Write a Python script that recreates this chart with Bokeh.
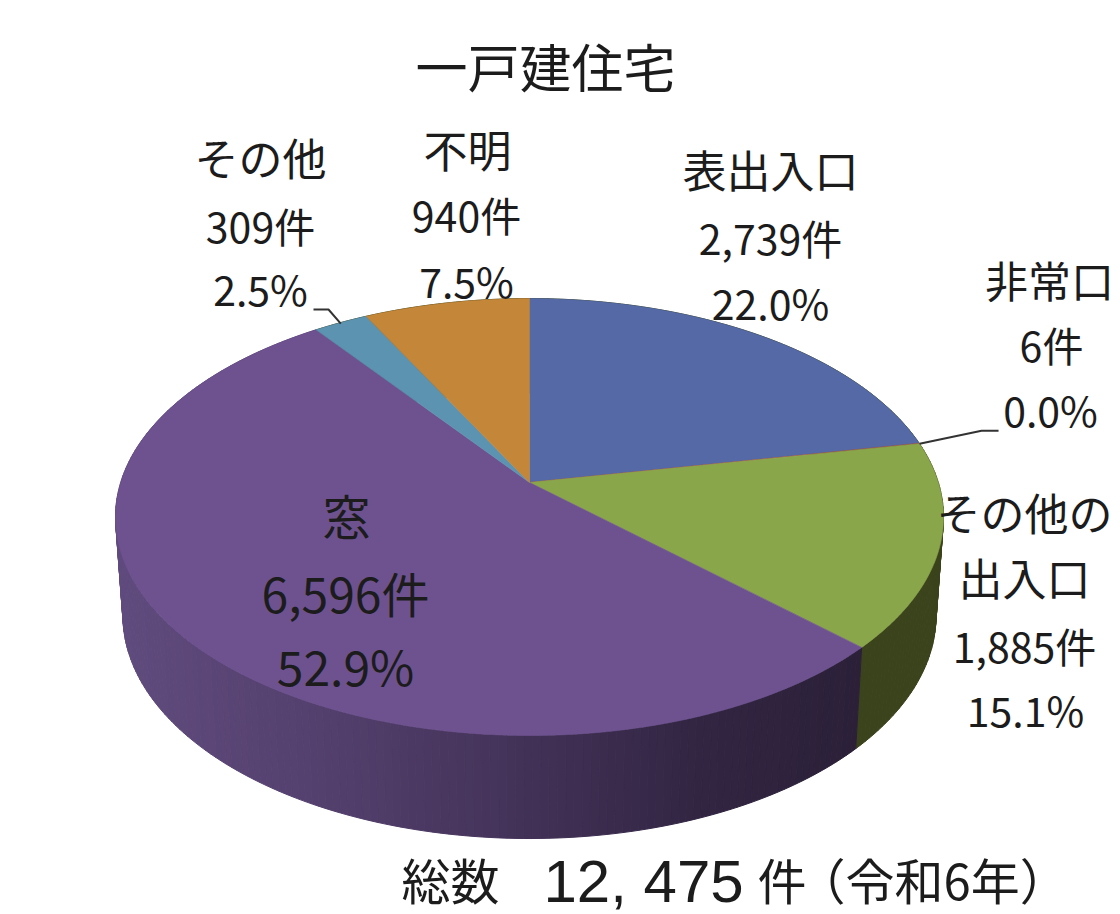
import numpy as np
from bokeh.plotting import figure
from bokeh.core.properties import value
from bokeh.embed import file_html
from bokeh.resources import INLINE

# ---- data ----
categories = ["表出入口", "非常口", "その他の出入口", "窓", "その他", "不明"]
counts = [2739, 6, 1885, 6596, 309, 940]
percents = ["22.0%", "0.0%", "15.1%", "52.9%", "2.5%", "7.5%"]
total_parts = ["総数", "12, 475", "件", "（令和6年）"]
title_label = "一戸建住宅"

# ---- style ----
top_colors = ["#5469a6", "#a5504d", "#8aa64a", "#6e5290", "#5b93b0", "#c48639"]
FONT = "Noto Sans CJK JP"
INK = "#1c1c1c"
CX, CY = 529.0, 482.0
R, A, K = 408.8, 213.0, 0.158      # perspective of the disc
SX, SY, DROP = 0.982, 1.02, 98.0   # lower rim


def top_xy(theta):
    d = 1 + K * np.cos(theta)
    return CX + R * np.sin(theta) / d, CY - A * np.cos(theta) / d


def low_xy(theta):
    d = 1 + K * np.cos(theta)
    return CX + SX * R * np.sin(theta) / d, CY + DROP - SY * A * np.cos(theta) / d


def mix(c1, c2, t):
    a = np.array(c1, float)
    b = np.array(c2, float)
    r = a + (b - a) * t
    return "#%02x%02x%02x" % tuple(int(round(v)) for v in r)


def purple_side(x):
    stops = [115, 300, 520, 700, 860]
    cols = [(0x60, 0x4b, 0x7e), (0x55, 0x41, 0x6f), (0x43, 0x32, 0x58), (0x32, 0x25, 0x42), (0x2b, 0x20, 0x38)]
    i = int(np.clip(np.searchsorted(stops, x) - 1, 0, len(stops) - 2))
    t = np.clip((x - stops[i]) / (stops[i + 1] - stops[i]), 0, 1)
    return mix(cols[i], cols[i + 1], t)


fractions = np.array(counts, float) / sum(counts)
edges = np.concatenate([[0.0], np.cumsum(fractions)]) * 2 * np.pi

p = figure(width=1120, height=914, x_range=(0, 1120), y_range=(914, 0),
           output_backend="svg", toolbar_location=None,
           x_axis_type=None, y_axis_type=None, min_border=0)
p.grid.visible = False
p.outline_line_color = None
p.background_fill_color = "#ffffff"
p.border_fill_color = "#ffffff"

# side wall
xs, ys, fills = [], [], []
for i, name in enumerate(categories):
    n = max(2, int((edges[i + 1] - edges[i]) / np.radians(1.0)))
    th = np.linspace(edges[i], edges[i + 1], n + 1)
    for a, b in zip(th[:-1], th[1:]):
        x0, y0 = top_xy(a)
        x1, y1 = top_xy(b)
        x2, y2 = low_xy(b)
        x3, y3 = low_xy(a)
        xs.append([x0, x1, x2, x3])
        ys.append([y0, y1, y2, y3])
        if name == "窓":
            fills.append(purple_side((x0 + x1) / 2))
        else:
            fills.append("#3b431c")
p.patches(xs, ys, fill_color=fills, line_color=fills, line_width=1)

# top face
for i in range(len(categories)):
    th = np.linspace(edges[i], edges[i + 1], max(3, int((edges[i + 1] - edges[i]) / np.radians(0.5))))
    x, y = top_xy(th)
    p.patch(np.concatenate([[CX], x]), np.concatenate([[CY], y]),
            fill_color=top_colors[i], line_color=top_colors[i], line_width=0.6)

# leader lines
ex, ey = top_xy(edges[2])
p.line([ex, ex + 62, ex + 79], [ey, ey - 13, ey - 13], line_color="#333333", line_width=2)
ex, ey = top_xy((edges[4] + edges[5]) / 2)
p.line([313, 328, ex], [309, 309, ey + 1], line_color="#333333", line_width=2)


def label(x, y, text, size, align="center", font=FONT):
    p.text([x], [y - 4], text=[text], text_font=value(font), text_font_size=value(f"{size}px"),
           text_align=align, text_baseline="middle", text_color=INK)


def f(v):
    return f"{v:,}件"


label(545, 69, title_label, 52)
label(260, 160, "その他", 44)
label(260, 228, f(counts[4]), 41)
label(260, 291, percents[4], 41)
label(467, 152, "不明", 44)
label(466, 217, f(counts[5]), 41)
label(466, 283, percents[5], 41)
label(770, 172, "表出入口", 44)
label(770, 240, f(counts[0]), 41)
label(770, 305, percents[0], 41)
label(1049, 282, categories[1], 43)
label(1051, 347, f(counts[1]), 41)
label(1050, 412, percents[1], 41)
label(1024, 515, "その他の", 44)
label(1024, 580, "出入口", 44)
label(1024, 648, f(counts[2]), 41)
label(1025, 712, percents[2], 41)
label(346, 517, categories[3], 48)
label(345, 595, f(counts[3]), 48)
label(345, 668, percents[3], 48)
label(401, 882, total_parts[0], 49, "left")
label(543, 885, total_parts[1], 60, "left", "Liberation Sans")
label(757, 882, total_parts[2], 49, "left")
label(796, 882, total_parts[3], 49, "left")

open("out.html", "w").write(file_html(p, INLINE))
